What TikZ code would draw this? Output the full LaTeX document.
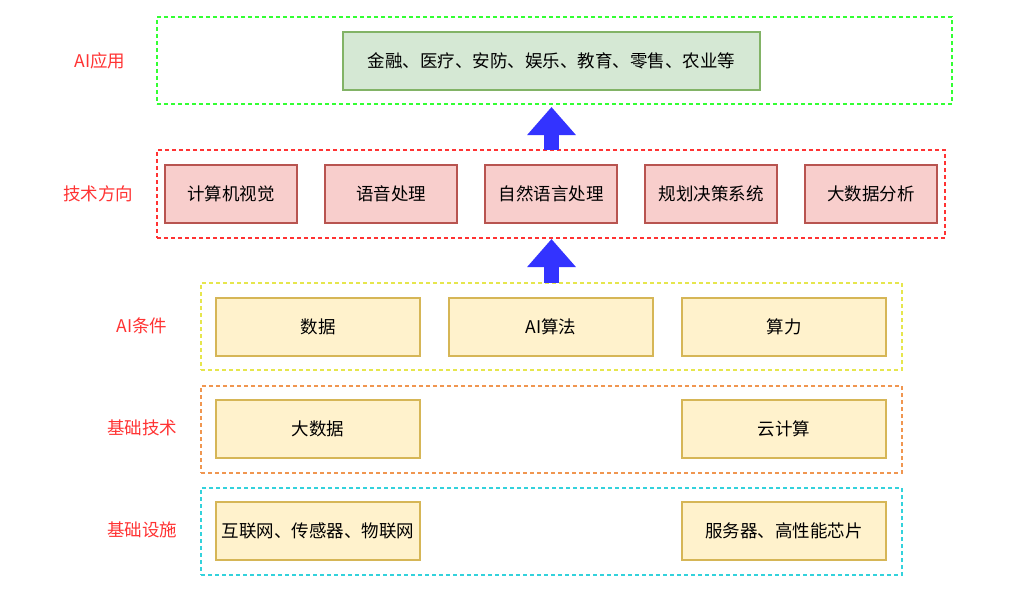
\documentclass[tikz,border=0pt]{standalone}
\usepackage{fontspec}
\setmainfont{Noto Sans CJK SC}
\usetikzlibrary{arrows.meta,positioning}
\definecolor{gline}{RGB}{51,255,51}
\definecolor{rline}{RGB}{255,51,51}
\definecolor{yline}{RGB}{230,230,77}
\definecolor{oline}{RGB}{240,150,80}
\definecolor{cline}{RGB}{51,210,220}
\definecolor{gfill}{RGB}{213,232,212}
\definecolor{gdraw}{RGB}{130,179,102}
\definecolor{rfill}{RGB}{248,206,204}
\definecolor{rdraw}{RGB}{184,84,80}
\definecolor{yfill}{RGB}{255,242,204}
\definecolor{ydraw}{RGB}{214,182,86}
\definecolor{upblue}{RGB}{51,51,255}
\tikzstyle{layer} = [draw, line width=1.5pt, dash pattern=on 4pt off 3pt,
  outer sep=0pt, inner sep=0pt, minimum height=87pt]
\tikzstyle{appbox} = [draw=gdraw, fill=gfill, line width=1.5pt, outer sep=0pt,
  minimum width=417pt, minimum height=58pt]
\tikzstyle{dirbox} = [draw=rdraw, fill=rfill, line width=1.5pt, outer sep=0pt,
  minimum width=132pt, minimum height=58pt]
\tikzstyle{basebox} = [draw=ydraw, fill=yfill, line width=1.5pt, outer sep=0pt,
  minimum width=204pt, minimum height=58pt]
\tikzstyle{tag} = [text=rline]
\tikzstyle{up} = [upblue, line width=15pt,
  -{Triangle[width=47pt,length=28pt]}]

\begin{document}
\begin{tikzpicture}[x=1pt, y=-1pt, font=\fontsize{17.5}{21}\selectfont]
    \useasboundingbox (0,0) rectangle (1011,589);

    % layer frames
    \node[layer, draw=gline, minimum width=795pt] (app) at (554.5,60.5) {};
    \node[layer, draw=rline, minimum width=788pt, minimum height=88pt]
    (dir) at (551,194) {};
    \node[layer, draw=yline, minimum width=701pt] (cond) at (551.5,326.5) {};
    \node[layer, draw=oline, minimum width=701pt] (tech) at (551.5,429.5) {};
    \node[layer, draw=cline, minimum width=701pt] (infra) at (551.5,531.5) {};

    % layer captions
    \node[tag] (appc) at (100,61) {AI应用};
    \node[tag] (dirc) at (98,194) {技术方向};
    \node[tag] (condc) at (142,326) {AI条件};
    \node[tag] (techc) at (142,428) {基础技术};
    \node[tag] (infrac) at (142,530) {基础设施};

    % AI applications
    \node[appbox] (a1) at (551.5,61) {金融、医疗、安防、娱乐、教育、零售、农业等};

    % technical directions
    \node[dirbox] (d1) at (231,194) {计算机视觉};
    \node[dirbox, right = 28pt of d1] (d2) {语音处理};
    \node[dirbox, right = 28pt of d2] (d3) {自然语言处理};
    \node[dirbox, right = 28pt of d3] (d4) {规划决策系统};
    \node[dirbox, right = 28pt of d4] (d5) {大数据分析};

    % AI conditions
    \node[basebox] (c1) at (318,327) {数据};
    \node[basebox, right = 29pt of c1] (c2) {AI算法};
    \node[basebox, right = 29pt of c2] (c3) {算力};

    % basic technology
    \node[basebox] (t1) at (318,429) {大数据};
    \node[basebox] (t2) at (t1 -| c3) {云计算};

    % infrastructure
    \node[basebox] (i1) at (318,531) {互联网、传感器、物联网};
    \node[basebox] (i2) at (i1 -| c3) {服务器、高性能芯片};

    % upward arrows
    \draw[up] (dir.north -| a1) -- ([yshift=-3pt]app.south -| a1);
    \draw[up] (cond.north -| a1) -- ([yshift=-1pt]dir.south -| a1);

  \end{tikzpicture}
\end{document}
